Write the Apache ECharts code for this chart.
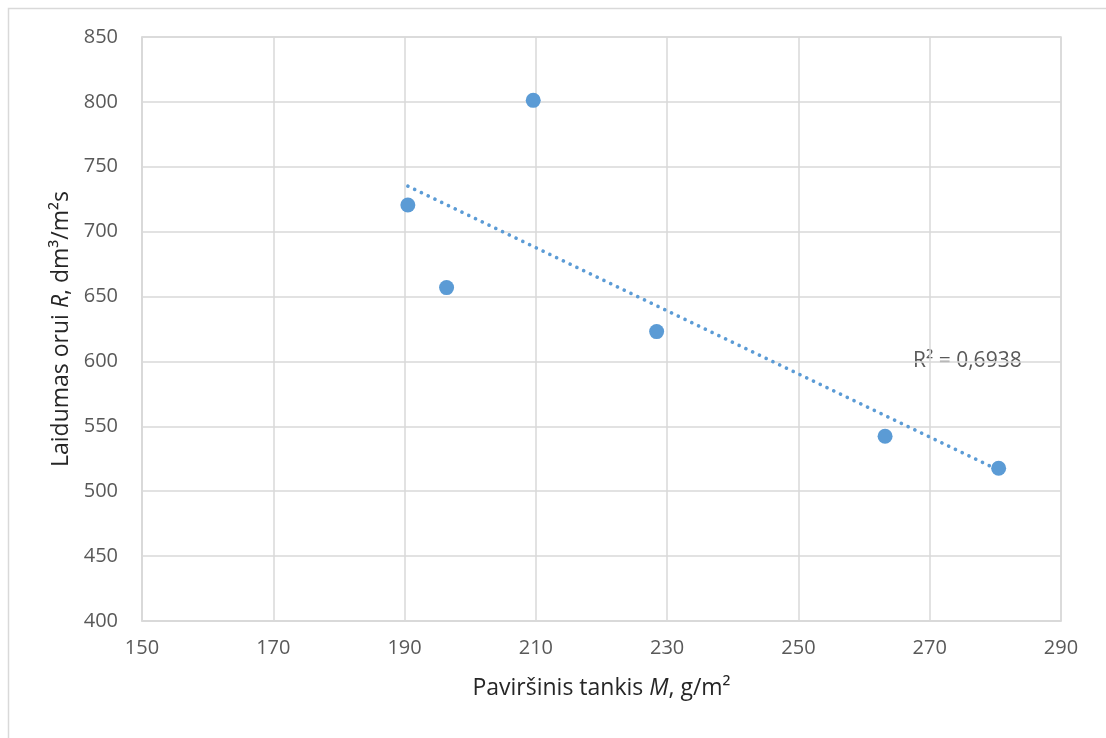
<!DOCTYPE html>
<html>
<head>
<meta charset="utf-8">
<title>Laidumas orui ir paviršinis tankis</title>
<script src="https://cdn.jsdelivr.net/npm/echarts/dist/echarts.min.js"></script>
<style>
  html, body { margin: 0; padding: 0; background: #ffffff; }
  #chart { width: 1106px; height: 738px; }
</style>
</head>
<body>
<div id="chart"></div>
<script>
// Measured samples: surface density M (g/m²) and air permeability R (dm³/m²s)
const surfaceDensity = [190.5, 196.4, 209.6, 228.4, 263.2, 280.5];
const airPermeability = [720.5, 656.9, 801.2, 623.0, 542.4, 517.7];

// Axis ranges and steps
const xRange = { min: 150, max: 290, step: 20 };
const yRange = { min: 400, max: 850, step: 50 };

// Text shown beside the trend line
const fitLabel = 'R² = 0,6938';

// Least-squares linear fit through the samples
function linearFit(xs, ys) {
  const n = xs.length;
  const mx = xs.reduce((a, b) => a + b, 0) / n;
  const my = ys.reduce((a, b) => a + b, 0) / n;
  let sxy = 0, sxx = 0;
  for (let i = 0; i < n; i++) {
    sxy += (xs[i] - mx) * (ys[i] - my);
    sxx += (xs[i] - mx) * (xs[i] - mx);
  }
  const slope = sxy / sxx;
  return { slope, intercept: my - slope * mx };
}

const fit = linearFit(surfaceDensity, airPermeability);
const xLo = Math.min(...surfaceDensity);
const xHi = Math.max(...surfaceDensity);
const trendPoints = [xLo, xHi].map(x => [x, fit.intercept + fit.slope * x]);
const samplePoints = surfaceDensity.map((x, i) => [x, airPermeability[i]]);

const FONT = '"Open Sans", "Noto Sans", sans-serif';
const GRID_GREY = '#d9d9d9';
const TEXT_GREY = '#595959';
const TITLE_COLOR = '#262626';
const BLUE = '#5b9bd5';

const chart = echarts.init(document.getElementById('chart'), null, { renderer: 'canvas' });

chart.setOption({
  animation: false,
  backgroundColor: '#ffffff',
  grid: {
    left: 142, right: 45, top: 37, bottom: 117,
    show: true, borderColor: GRID_GREY, borderWidth: 1.5
  },
  xAxis: {
    type: 'value',
    min: xRange.min, max: xRange.max, interval: xRange.step,
    axisLine: { show: true, lineStyle: { color: GRID_GREY, width: 1.5 } },
    axisTick: { show: false },
    splitLine: { show: true, lineStyle: { color: GRID_GREY, width: 1.5 } },
    axisLabel: { color: TEXT_GREY, fontFamily: FONT, fontSize: 20, margin: 17 },
    name: 'Paviršinis tankis {i|M}, g/m²',
    nameLocation: 'middle',
    nameGap: 56,
    nameTextStyle: {
      color: TITLE_COLOR, fontFamily: FONT, fontSize: 23,
      rich: { i: { fontStyle: 'italic', color: TITLE_COLOR, fontFamily: FONT, fontSize: 23 } }
    }
  },
  yAxis: {
    type: 'value',
    min: yRange.min, max: yRange.max, interval: yRange.step,
    axisLine: { show: true, lineStyle: { color: GRID_GREY, width: 1.5 } },
    axisTick: { show: false },
    splitLine: { show: true, lineStyle: { color: GRID_GREY, width: 1.5 } },
    axisLabel: { color: TEXT_GREY, fontFamily: FONT, fontSize: 20, margin: 24 },
    name: 'Laidumas orui {i|R}, dm³/m²s',
    nameLocation: 'middle',
    nameGap: 68,
    nameTextStyle: {
      color: TITLE_COLOR, fontFamily: FONT, fontSize: 23,
      rich: { i: { fontStyle: 'italic', color: TITLE_COLOR, fontFamily: FONT, fontSize: 23 } }
    }
  },
  graphic: [
    {
      type: 'rect',
      z: -10,
      shape: { x: 8.5, y: 8.5, width: 1200, height: 800 },
      style: { fill: 'none', stroke: GRID_GREY, lineWidth: 1.5 }
    },
    {
      type: 'text',
      left: 913,
      top: 351,
      style: { text: fitLabel, fill: TEXT_GREY, font: '21px ' + FONT }
    }
  ],
  series: [
    {
      name: 'Trend',
      type: 'line',
      data: trendPoints,
      symbol: 'none',
      silent: true,
      z: 2,
      lineStyle: { color: BLUE, width: 3.6, type: [0.1, 7.4], cap: 'round' }
    },
    {
      name: 'Samples',
      type: 'scatter',
      data: samplePoints,
      symbol: 'circle',
      symbolSize: 15,
      z: 3,
      itemStyle: { color: BLUE, opacity: 1 }
    }
  ]
});
</script>
</body>
</html>
